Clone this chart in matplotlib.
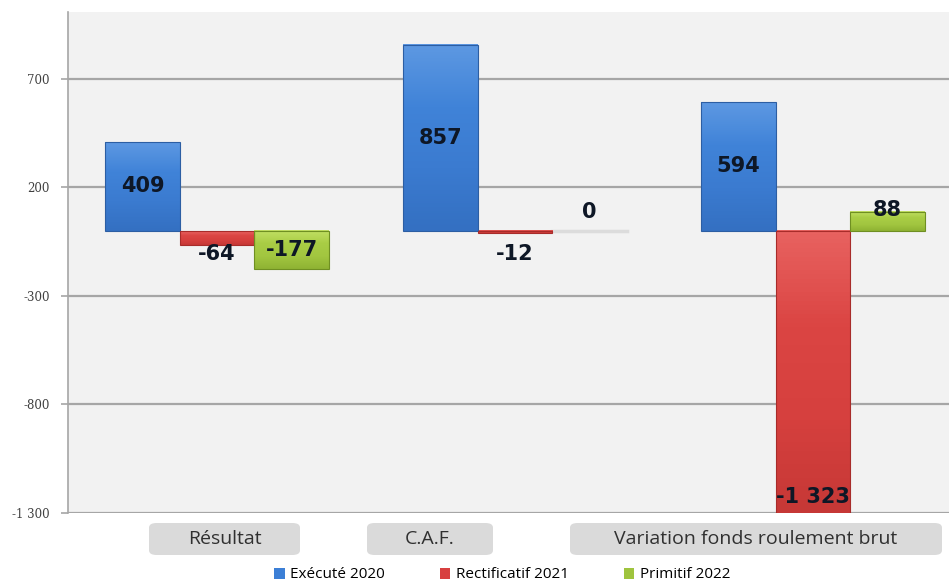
import numpy as np
import matplotlib
matplotlib.use('Agg')
import matplotlib.pyplot as plt
from matplotlib.patches import FancyBboxPatch, Patch
from matplotlib.colors import LinearSegmentedColormap

# data
categories = ['Résultat', 'C.A.F.', 'Variation fonds roulement brut']
series_names = ['Exécuté 2020', 'Rectificatif 2021', 'Primitif 2022']
execute_2020 = [409, 857, 594]
rectificatif_2021 = [-64, -12, -1323]
primitif_2022 = [-177, 0, 88]
y_ticks = [-1300, -800, -300, 200, 700]
y_ticklabels = ['-1 300', '-800', '-300', '200', '700']

W, H = 949, 582
fig = plt.figure(figsize=(W / 100, H / 100), dpi=100)
fig.patch.set_facecolor('white')

# plot area in pixels: left 68, top 12, bottom 513, runs past right edge
ax = fig.add_axes([68 / W, (H - 513) / H, (W - 68) / W, (513 - 12) / H])
ax.set_facecolor('#f2f2f2')
XLIM = (-0.5, 2.456)
YLIM = (-1300, 1008)
ax.set_xlim(*XLIM)
ax.set_ylim(*YLIM)

# top -> bottom shading, fairly flat like the original
grads = [('#5d98e2', '#4083d8', '#3b7bd0', '#3470c2'),
         ('#e86260', '#db4543', '#d6403e', '#c63836'),
         ('#c2e064', '#a9cd45', '#a2c640', '#8fb333')]
solid = ['#3c7fd6', '#d84040', '#9fc43e']
edges = ['#2c5ea3', '#a82c2a', '#6f8f22']
width = 0.25
offsets = [-0.25, 0.0, 0.25]
all_series = [execute_2020, rectificatif_2021, primitif_2022]
x = np.arange(len(categories))

for ys in y_ticks:
    ax.axhline(ys, color='#a6a6a6', lw=1.6, zorder=1)

for s, vals in enumerate(all_series):
    cmap = LinearSegmentedColormap.from_list('g%d' % s, list(grads[s]))
    bars = ax.bar(x + offsets[s], vals, width=width, color=solid[s], zorder=2,
                  edgecolor='none')
    for b, v in zip(bars, vals):
        if v == 0:
            ax.plot([b.get_x(), b.get_x() + b.get_width()], [0, 0],
                    color='#dcdcdc', lw=2.5, zorder=2)
            continue
        x0 = b.get_x()
        y0, y1 = sorted([0, v])
        y0 = max(y0, YLIM[0])
        grad = np.linspace(0, 1, 64).reshape(-1, 1)
        ax.imshow(grad, cmap=cmap, aspect='auto', origin='upper',
                  extent=[x0, x0 + width, y0, y1], zorder=3)
    # thin darker outline on top of the shading
    ax.bar(x + offsets[s], vals, width=width, color='none',
           edgecolor=[e if v != 0 else 'none' for v, e in zip(vals, [edges[s]] * 3)],
           lw=0.8, zorder=4)

ax.set_xlim(*XLIM)
ax.set_ylim(*YLIM)

# data labels
lab_kw = dict(ha='center', fontsize=15, fontweight='bold', color='#0e1726',
              family='DejaVu Sans', zorder=5)
ylo = YLIM[0]
for s, vals in enumerate(all_series):
    for i, v in enumerate(vals):
        xp = i + offsets[s]
        txt = f'{v:,}'.replace(',', ' ')
        if v < ylo:
            ax.text(xp, ylo + 75, txt, va='center', **lab_kw)
        elif abs(v) >= 150:
            ax.text(xp, v / 2, txt, va='center', **lab_kw)
        elif v > 50:
            ax.text(xp, v + 10, txt, va='center', **lab_kw)
        elif v >= 0:
            ax.text(xp, v + 88, txt, va='center', **lab_kw)
        else:
            ax.text(xp, -105, txt, va='center', **lab_kw)

ax.set_xticks([])
ax.set_yticks(y_ticks)
ax.set_yticklabels(y_ticklabels, family='DejaVu Serif', fontsize=8.5, color='#404040')
ax.tick_params(axis='y', length=5, width=1.2, color='#a6a6a6', pad=8)
for side in ['top', 'right', 'bottom']:
    ax.spines[side].set_visible(False)
ax.spines['left'].set_color('#a6a6a6')
ax.spines['left'].set_linewidth(1.2)

# category labels in grey rounded boxes (pixel layout)
boxes = [(149, 300), (367, 493), (570, 942)]
for name, (bx0, bx1) in zip(categories, boxes):
    by0, by1 = 523, 555
    patch = FancyBboxPatch((bx0 / W, (H - by1) / H), (bx1 - bx0) / W, (by1 - by0) / H,
                           boxstyle='round,pad=0,rounding_size=0.008',
                           transform=fig.transFigure, facecolor='#dadada',
                           edgecolor='none', zorder=1)
    fig.patches.append(patch)
    fig.text((bx0 + bx1) / 2 / W, (H - (by0 + by1) / 2) / H, name,
             ha='center', va='center', fontsize=14, family='Open Sans',
             color='#303030')

handles = [Patch(facecolor=solid[k], edgecolor='none') for k in range(3)]
fig.legend(handles, series_names, loc='center', ncol=3,
           bbox_to_anchor=(502 / W, (H - 575) / H), frameon=False,
           prop={'family': 'Open Sans', 'size': 11}, handlelength=0.7,
           handleheight=0.7, handletextpad=0.35, columnspacing=3.6)

fig.savefig('out.png', dpi=100)
